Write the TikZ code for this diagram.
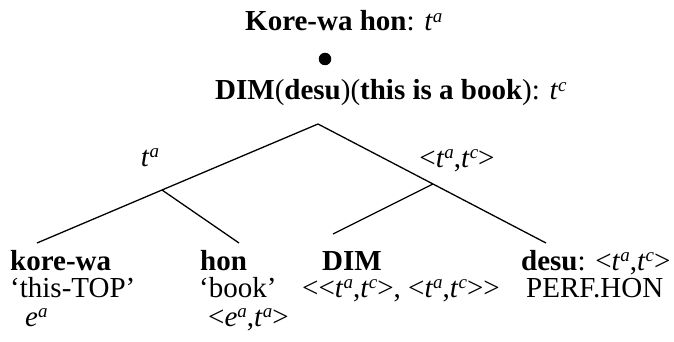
\documentclass[tikz,border=0pt]{standalone}
\usepackage{fontspec}
\setmainfont{Liberation Serif}
\newcommand\tsp[2]{\textit{#1}\raisebox{0.3em}{\fontsize{19}{19}\selectfont\textit{#2}}}
\newcommand\lt{<\kern0pt}
\newcommand\gt{\kern0pt>}
\begin{document}
\begin{tikzpicture}[x=1pt,y=-1pt,
  lbl/.style={inner sep=0pt,anchor=base west,font=\fontsize{29}{27}\selectfont},
  clbl/.style={inner sep=0pt,anchor=base,font=\fontsize{29}{27}\selectfont},
  edge/.style={line width=1.3pt}]
\useasboundingbox (0,0) rectangle (674,342);
% titles
\node[lbl] (t1) at (245,31) {\textbf{Kore-wa hon}: \tsp{t}{a}};
\node[circle,fill=black,inner sep=0pt,minimum size=12.5pt] (dot) at (325,59) {};
\node[lbl] (t2) at (215,100) {\textbf{DIM}(\textbf{desu})(\textbf{this is a book}): \tsp{t}{c}};
% tree
\coordinate (apex) at (318,124);
\coordinate (lj) at (162,190);
\coordinate (rj) at (433,184);
\coordinate (kend) at (37,243);
\coordinate (hend) at (239,243);
\coordinate (dend) at (333,234);
\coordinate (send) at (546,243);
\draw[edge] (kend) -- (lj) -- (apex) -- (rj) -- (send);
\draw[edge] (lj) -- (hend);
\draw[edge] (rj) -- (dend);
\node[clbl] (la) at (150,166) {\tsp{t}{a}};
\node[clbl] (ra) at (457,167) {<\tsp{t}{a},\tsp{t}{c}>};
% leaves
\node[lbl] (k1) at (10,270) {\textbf{kore-wa}};
\node[lbl] (k2) at (10,297) {‘this-TOP’};
\node[lbl] (k3) at (25,326) {\tsp{e}{a}};
\node[lbl] (h1) at (200,270) {\textbf{hon}};
\node[lbl] (h2) at (199,297) {‘book’};
\node[lbl] (h3) at (208,326) {<\tsp{e}{a},\tsp{t}{a}>};
\node[lbl] (d1) at (322,270) {\textbf{DIM}};
\node[lbl] (d2) at (302,297) {\lt<\tsp{t}{a},\tsp{t}{c}>, <\tsp{t}{a},\tsp{t}{c}>\gt};
\node[lbl] (s1) at (521,270) {\textbf{desu}: <\tsp{t}{a},\tsp{t}{c}>};
\node[lbl] (s2) at (526,297) {PERF.HON};
\end{tikzpicture}
\end{document}
